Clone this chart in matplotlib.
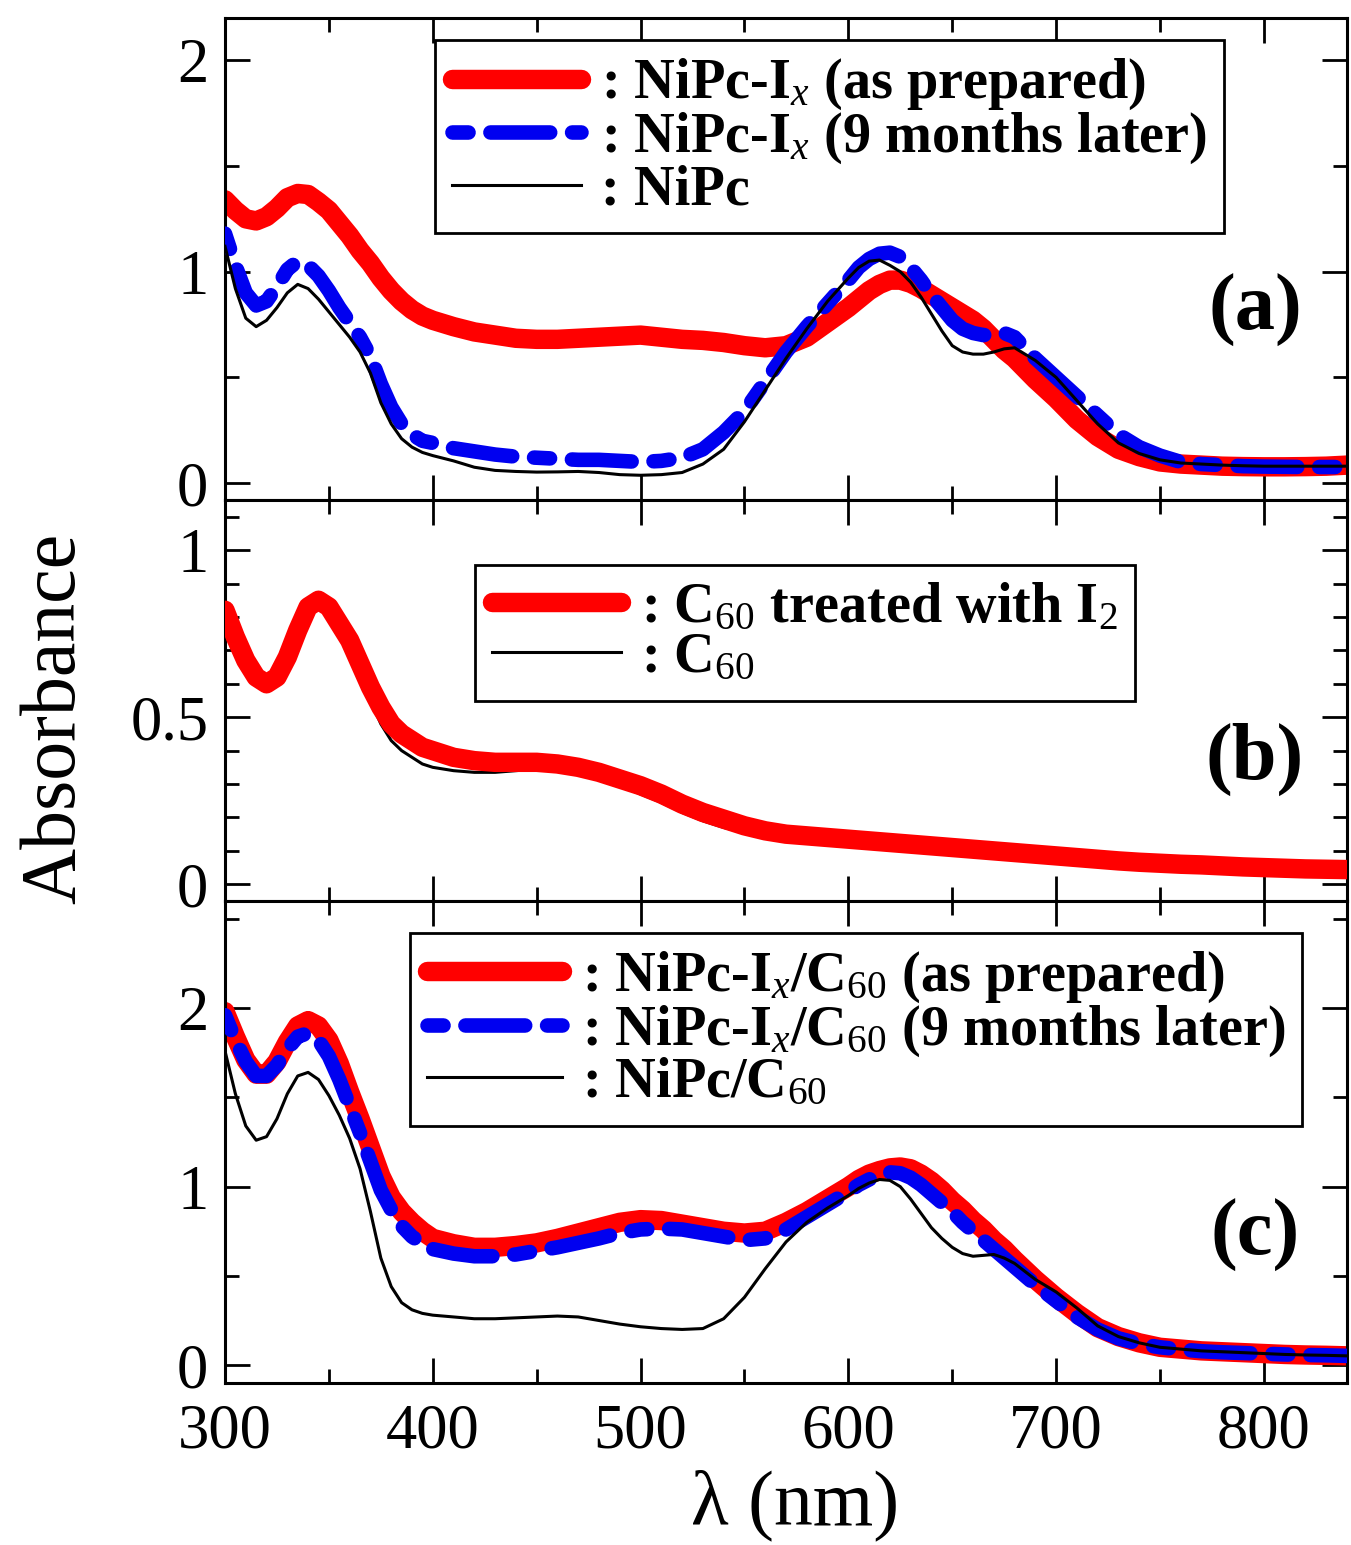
import matplotlib
matplotlib.use("Agg")
import matplotlib.pyplot as plt
from matplotlib.ticker import MultipleLocator, FuncFormatter

plt.rcParams["font.family"] = ["Liberation Serif", "DejaVu Serif"]
plt.rcParams["mathtext.fontset"] = "custom"
plt.rcParams["mathtext.rm"] = "Liberation Serif"
plt.rcParams["mathtext.it"] = "Liberation Serif:italic"
plt.rcParams["mathtext.bf"] = "Liberation Serif:bold"

# ---------------- wavelength grids (nm) ----------------
wl_ac = [300, 305, 310, 315, 320, 325, 330, 335, 340, 345, 350, 355, 360, 365,
         370, 375, 380, 385, 390, 395, 400, 410, 420, 430, 440, 450, 460, 470,
         480, 490, 500, 510, 520, 530, 540, 550, 560, 570, 580, 590, 600, 605,
         610, 615, 620, 625, 630, 635, 640, 645, 650, 655, 660, 665, 670, 675,
         680, 690, 700, 710, 720, 730, 740, 750, 760, 770, 780, 790, 800, 810,
         820, 830, 840]

wl_b = [300, 305, 310, 315, 320, 325, 330, 335, 340, 345, 350, 355, 360, 365,
        370, 375, 380, 385, 390, 395, 400, 410, 420, 430, 440, 450, 460, 470,
        480, 490, 500, 510, 520, 530, 540, 550, 560, 570, 580, 590, 600, 610,
        620, 630, 640, 650, 660, 670, 680, 690, 700, 710, 720, 730, 740, 750,
        760, 770, 780, 790, 800, 810, 820, 830, 840]

# ---------------- (a) NiPc films ----------------
a_nipc_ix_fresh = [1.34, 1.29, 1.25, 1.24, 1.26, 1.30, 1.35, 1.37, 1.365, 1.33,
                   1.29, 1.23, 1.17, 1.10, 1.04, 0.97, 0.91, 0.86, 0.82, 0.79,
                   0.77, 0.74, 0.715, 0.70, 0.685, 0.68, 0.68, 0.685, 0.69, 0.695,
                   0.70, 0.69, 0.68, 0.675, 0.665, 0.65, 0.64, 0.65, 0.69, 0.76,
                   0.83, 0.87, 0.91, 0.94, 0.96, 0.96, 0.945, 0.92, 0.89, 0.86,
                   0.83, 0.80, 0.77, 0.73, 0.68, 0.63, 0.59, 0.49, 0.40, 0.30,
                   0.22, 0.16, 0.125, 0.10, 0.09, 0.085, 0.08, 0.078, 0.077,
                   0.077, 0.078, 0.08, 0.085]
a_nipc_ix_aged = [1.18, 1.03, 0.90, 0.84, 0.86, 0.93, 1.01, 1.05, 1.03, 0.98,
                  0.91, 0.83, 0.76, 0.69, 0.60, 0.47, 0.36, 0.28, 0.23, 0.20,
                  0.19, 0.165, 0.15, 0.135, 0.125, 0.12, 0.115, 0.11, 0.11, 0.105,
                  0.10, 0.105, 0.12, 0.16, 0.24, 0.34, 0.48, 0.62, 0.74, 0.85,
                  0.96, 1.02, 1.06, 1.085, 1.09, 1.07, 1.02, 0.96, 0.89, 0.83,
                  0.77, 0.73, 0.71, 0.70, 0.705, 0.71, 0.69, 0.59, 0.50, 0.41,
                  0.32, 0.23, 0.17, 0.13, 0.10, 0.09, 0.085, 0.08, 0.078, 0.077,
                  0.076, 0.076, 0.076]
a_nipc = [1.12, 0.92, 0.78, 0.74, 0.77, 0.83, 0.90, 0.94, 0.92, 0.87,
          0.81, 0.75, 0.69, 0.62, 0.52, 0.38, 0.28, 0.21, 0.17, 0.145,
          0.13, 0.105, 0.075, 0.06, 0.055, 0.052, 0.053, 0.055, 0.05, 0.04,
          0.037, 0.04, 0.05, 0.09, 0.16, 0.29, 0.44, 0.59, 0.73, 0.86,
          0.97, 1.02, 1.05, 1.055, 1.03, 1.00, 0.95, 0.88, 0.80, 0.72,
          0.65, 0.62, 0.61, 0.61, 0.62, 0.635, 0.64, 0.58, 0.50, 0.39,
          0.28, 0.19, 0.14, 0.11, 0.095, 0.09, 0.085, 0.082, 0.08, 0.08,
          0.08, 0.08, 0.08]

# ---------------- (b) C60 films ----------------
b_c60_i2 = [0.82, 0.74, 0.67, 0.62, 0.60, 0.62, 0.68, 0.76, 0.83, 0.85,
            0.83, 0.78, 0.73, 0.66, 0.59, 0.53, 0.48, 0.45, 0.43, 0.41,
            0.40, 0.38, 0.37, 0.365, 0.365, 0.365, 0.36, 0.35, 0.335, 0.315,
            0.295, 0.27, 0.24, 0.215, 0.195, 0.175, 0.16, 0.15, 0.145, 0.14,
            0.135, 0.13, 0.125, 0.12, 0.115, 0.11, 0.105, 0.10, 0.095, 0.09,
            0.085, 0.08, 0.075, 0.07, 0.066, 0.063, 0.06, 0.058, 0.055, 0.052,
            0.05, 0.048, 0.046, 0.045, 0.044]
b_c60 = [0.82, 0.74, 0.67, 0.62, 0.60, 0.62, 0.68, 0.76, 0.82, 0.84,
         0.82, 0.77, 0.71, 0.63, 0.55, 0.48, 0.43, 0.40, 0.38, 0.36,
         0.35, 0.34, 0.335, 0.335, 0.34, 0.345, 0.34, 0.33, 0.315, 0.295,
         0.27, 0.245, 0.215, 0.19, 0.17, 0.155, 0.145, 0.14, 0.135, 0.13,
         0.13, 0.125, 0.12, 0.115, 0.11, 0.105, 0.10, 0.095, 0.09, 0.086,
         0.082, 0.077, 0.072, 0.068, 0.064, 0.061, 0.058, 0.056, 0.053, 0.05,
         0.048, 0.046, 0.044, 0.043, 0.042]

# ---------------- (c) NiPc/C60 bilayers ----------------
c_bilayer_ix_fresh = [1.98, 1.84, 1.71, 1.63, 1.63, 1.70, 1.81, 1.90, 1.93, 1.90,
                      1.82, 1.69, 1.53, 1.38, 1.22, 1.06, 0.94, 0.86, 0.80, 0.75,
                      0.71, 0.68, 0.66, 0.66, 0.67, 0.685, 0.71, 0.74, 0.77, 0.80,
                      0.815, 0.81, 0.79, 0.77, 0.75, 0.74, 0.75, 0.80, 0.86, 0.93,
                      1.00, 1.04, 1.07, 1.09, 1.105, 1.11, 1.10, 1.07, 1.03, 0.98,
                      0.92, 0.87, 0.81, 0.76, 0.70, 0.65, 0.59, 0.48, 0.38, 0.29,
                      0.21, 0.16, 0.125, 0.10, 0.09, 0.08, 0.075, 0.07, 0.065,
                      0.06, 0.057, 0.055, 0.052]
c_bilayer_ix_aged = [1.96, 1.82, 1.70, 1.62, 1.62, 1.68, 1.77, 1.84, 1.86, 1.82,
                     1.73, 1.60, 1.45, 1.30, 1.14, 0.98, 0.87, 0.78, 0.72, 0.68,
                     0.65, 0.625, 0.61, 0.61, 0.62, 0.64, 0.66, 0.685, 0.71, 0.74,
                     0.76, 0.765, 0.76, 0.74, 0.72, 0.70, 0.71, 0.76, 0.83, 0.90,
                     0.97, 1.01, 1.04, 1.065, 1.08, 1.075, 1.05, 1.01, 0.96, 0.91,
                     0.86, 0.80, 0.75, 0.70, 0.65, 0.60, 0.55, 0.45, 0.36, 0.27,
                     0.20, 0.15, 0.12, 0.10, 0.088, 0.078, 0.072, 0.068, 0.064,
                     0.06, 0.057, 0.055, 0.052]
c_bilayer = [1.76, 1.52, 1.34, 1.26, 1.28, 1.38, 1.52, 1.62, 1.64, 1.60,
             1.51, 1.40, 1.27, 1.10, 0.86, 0.60, 0.44, 0.35, 0.31, 0.29,
             0.28, 0.27, 0.26, 0.26, 0.265, 0.27, 0.275, 0.27, 0.25, 0.23,
             0.215, 0.205, 0.20, 0.205, 0.26, 0.38, 0.54, 0.69, 0.80, 0.88,
             0.95, 0.99, 1.02, 1.04, 1.035, 1.00, 0.93, 0.85, 0.77, 0.71,
             0.66, 0.625, 0.61, 0.615, 0.62, 0.60, 0.57, 0.48, 0.41, 0.32,
             0.22, 0.16, 0.125, 0.10, 0.09, 0.08, 0.075, 0.07, 0.065,
             0.06, 0.057, 0.055, 0.052]

labels_a = [r": NiPc-I$_{\mathit{x}}$ (as prepared)",
            r": NiPc-I$_{\mathit{x}}$ (9 months later)",
            r": NiPc"]
labels_b = [r": C$_{\mathrm{60}}$ treated with I$_{\mathrm{2}}$",
            r": C$_{\mathrm{60}}$"]
labels_c = [r": NiPc-I$_{\mathit{x}}$/C$_{\mathrm{60}}$ (as prepared)",
            r": NiPc-I$_{\mathit{x}}$/C$_{\mathrm{60}}$ (9 months later)",
            r": NiPc/C$_{\mathrm{60}}$"]

RED = "#ff0000"
BLUE = "#0000f0"
DASH = (0, (1.1, 1.5, 4.1, 1.5))

W, H = 1351, 1545
fig = plt.figure(figsize=(W / 100, H / 100), dpi=100)
x0, x1 = 225, 1347


def make_axes(top, bottom):
    return fig.add_axes([x0 / W, 1 - bottom / H, (x1 - x0) / W, (bottom - top) / H])


ax_a = make_axes(18, 500)
ax_b = make_axes(500, 901)
ax_c = make_axes(901, 1383)

thick = dict(color=RED, lw=14, solid_capstyle="round", solid_joinstyle="round")
dashed = dict(color=BLUE, lw=10.5, linestyle=DASH, dash_capstyle="round",
              dash_joinstyle="round")
thin = dict(color="black", lw=2.2)

# (a)
ax_a.plot(wl_ac, a_nipc_ix_fresh, label=labels_a[0], zorder=2, **thick)
ax_a.plot(wl_ac, a_nipc_ix_aged, label=labels_a[1], zorder=3, **dashed)
ax_a.plot(wl_ac, a_nipc, label=labels_a[2], zorder=4, **thin)

# (b)
lb_black, = ax_b.plot(wl_b, b_c60, label=labels_b[1], zorder=2, **thin)
lb_red, = ax_b.plot(wl_b, b_c60_i2, label=labels_b[0], zorder=3, **thick)

# (c)
ax_c.plot(wl_ac, c_bilayer_ix_fresh, label=labels_c[0], zorder=2, **thick)
ax_c.plot(wl_ac, c_bilayer_ix_aged, label=labels_c[1], zorder=3, **dashed)
ax_c.plot(wl_ac, c_bilayer, label=labels_c[2], zorder=4, **thin)

fmt = FuncFormatter(lambda v, p: f"{v:g}")
for ax in (ax_a, ax_b, ax_c):
    ax.set_xlim(300, 840)
    ax.xaxis.set_major_locator(MultipleLocator(100))
    ax.xaxis.set_minor_locator(MultipleLocator(50))
    ax.yaxis.set_major_formatter(fmt)
    ax.tick_params(which="both", direction="in", top=True, right=True,
                   width=2.0, labelsize=45)
    ax.tick_params(axis="y", pad=12)
    ax.tick_params(axis="x", pad=15)
    ax.tick_params(which="major", length=18)
    ax.tick_params(which="minor", length=10)
    for s in ax.spines.values():
        s.set_linewidth(2.2)

ax_a.set_ylim(-0.08, 2.2)
ax_a.yaxis.set_major_locator(MultipleLocator(1))
ax_a.yaxis.set_minor_locator(MultipleLocator(0.5))
ax_b.set_ylim(-0.05, 1.15)
ax_b.yaxis.set_major_locator(MultipleLocator(0.5))
ax_b.yaxis.set_minor_locator(MultipleLocator(0.1))
ax_c.set_ylim(-0.1, 2.6)
ax_c.yaxis.set_major_locator(MultipleLocator(1))
ax_c.yaxis.set_minor_locator(MultipleLocator(0.5))
ax_a.tick_params(labelbottom=False)
ax_b.tick_params(labelbottom=False)

leg_font = {"family": "Liberation Serif", "weight": "bold", "size": 40.5}
common = dict(prop=leg_font, frameon=True, fancybox=False, framealpha=1,
              edgecolor="black", borderpad=0.3, labelspacing=-0.03,
              handletextpad=0.35, borderaxespad=0, loc="upper left")

leg = ax_a.legend(bbox_to_anchor=(0.187, 0.954), handlelength=2.3, **common)
leg.get_frame().set_linewidth(2.0)
leg = ax_b.legend(handles=[lb_red, lb_black], bbox_to_anchor=(0.223, 0.838),
                  handlelength=2.3, **common)
leg.get_frame().set_linewidth(2.0)
leg = ax_c.legend(bbox_to_anchor=(0.165, 0.934), handlelength=2.4, **common)
leg.get_frame().set_linewidth(2.0)

panel_font = dict(fontsize=58, fontweight="bold", ha="center", va="center")
ax_a.text(0.918, 0.394, "(a)", transform=ax_a.transAxes, **panel_font)
ax_b.text(0.918, 0.352, "(b)", transform=ax_b.transAxes, **panel_font)
ax_c.text(0.918, 0.307, "(c)", transform=ax_c.transAxes, **panel_font)

fig.text(55 / W, 1 - 718 / H, "Absorbance", rotation=90, fontsize=56,
         ha="center", va="center")
fig.text(795 / W, 1 - 1505 / H, "λ (nm)", fontsize=56, ha="center", va="center")

fig.savefig("out.png", dpi=100)
